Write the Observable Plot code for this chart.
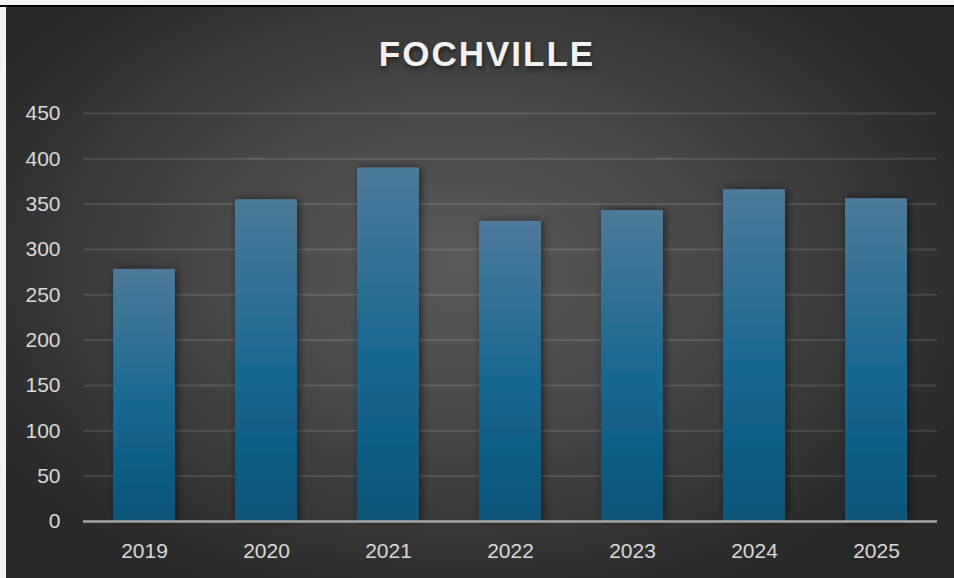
<!DOCTYPE html>
<html>
<head>
<meta charset="utf-8">
<script src="https://cdn.jsdelivr.net/npm/d3@7"></script>
<script src="https://cdn.jsdelivr.net/npm/@observablehq/plot@0.6"></script>
<style>
  html, body { margin: 0; padding: 0; background: #f2f2f2; width: 954px; height: 578px; overflow: hidden; }
  #topline { position: absolute; left: 0; top: 5px; width: 954px; height: 2px; background: #000; }
  #chart {
    position: absolute; left: 6px; top: 7px; width: 948px; height: 571px;
    background: radial-gradient(ellipse 60% 65% at 48% 45%, #5a5a5a 0%, #474747 45%, #2f2f2f 85%, #282828 100%);
    font-family: "Liberation Sans", Arial, sans-serif;
  }
  #title {
    height: 85px; box-sizing: border-box; padding-top: 27px; padding-left: 14px;
    text-align: center; color: #f2f2f2; font-size: 35px; font-weight: bold; letter-spacing: 2px;
    text-shadow: 1px 3px 5px rgba(0,0,0,0.5); line-height: 40px;
  }
  svg { display: block; background: transparent; }
</style>
</head>
<body>
<div id="topline"></div>
<div id="chart">
  <div id="title">FOCHVILLE</div>
</div>
<script>
const years = ["2019", "2020", "2021", "2022", "2023", "2024", "2025"];
const values = [278, 355, 390, 331, 343, 366, 356];
const yTicks = [0, 50, 100, 150, 200, 250, 300, 350, 400, 450];

const data = years.map((y, i) => ({year: y, value: values[i]}));

const plot = Plot.plot({
  width: 948,
  height: 486,
  marginTop: 21,
  marginBottom: 57,
  marginLeft: 77,
  marginRight: 17,
  style: {background: "transparent", fontFamily: "'Liberation Sans', Arial, sans-serif"},
  x: {domain: years, paddingInner: 0.49, paddingOuter: 0.245, label: null},
  y: {domain: [0, 450], ticks: yTicks, label: null},
  marks: [
    Plot.ruleY(yTicks.filter(d => d > 0), {stroke: "#ffffff", strokeOpacity: 0.12, strokeWidth: 2}),
    Plot.barY(data, {x: "year", y: "value", fill: "url(#barGrad)"}),
    Plot.ruleY([0], {stroke: "#a6a6a6", strokeWidth: 2.5}),
    Plot.axisY({ticks: yTicks, tickSize: 0, tickPadding: 23, fontSize: 21, fill: "#d9d9d9", label: null}),
    Plot.axisX({tickSize: 0, tickPadding: 22, fontSize: 21, fill: "#d9d9d9", label: null})
  ]
});

const ns = "http://www.w3.org/2000/svg";
const defs = document.createElementNS(ns, "defs");
defs.innerHTML = `
  <linearGradient id="barGrad" x1="0" y1="0" x2="0" y2="1">
    <stop offset="0" stop-color="#4d7a9a"/>
    <stop offset="0.55" stop-color="#16678f"/>
    <stop offset="1" stop-color="#0a5579"/>
  </linearGradient>
  <filter id="barShadow" x="-30%" y="-10%" width="160%" height="120%">
    <feDropShadow dx="2" dy="0" stdDeviation="4" flood-color="#000" flood-opacity="0.55"/>
  </filter>`;
plot.insertBefore(defs, plot.firstChild);
plot.querySelectorAll("rect").forEach(r => r.setAttribute("filter", "url(#barShadow)"));

document.getElementById("chart").appendChild(plot);
</script>
</body>
</html>
